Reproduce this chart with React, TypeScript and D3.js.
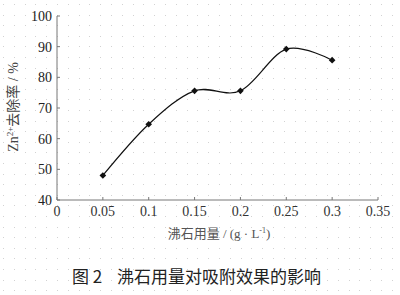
import React from "react";
import * as d3 from "d3";

const xValues = [0.05, 0.1, 0.15, 0.2, 0.25, 0.3];
const yValues = [48, 64.7, 75.6, 75.6, 89.2, 85.6];
const xTicks = [0, 0.05, 0.1, 0.15, 0.2, 0.25, 0.3, 0.35];
const xTickLabels = ["0", "0.05", "0.1", "0.15", "0.2", "0.25", "0.3", "0.35"];
const yTicks = [40, 50, 60, 70, 80, 90, 100];

const W = 400;
const H = 295;
const left = 57;
const right = 378;
const top = 16;
const bottom = 200;

const serif = "Liberation Serif";
const cjk = "Noto Sans CJK SC";

export default function App() {
  const x = d3.scaleLinear().domain([0, 0.35]).range([left, right]);
  const y = d3.scaleLinear().domain([40, 100]).range([bottom, top]);
  const pts: [number, number][] = xValues.map((v, i) => [x(v), y(yValues[i])]);
  const line = d3.line().curve(d3.curveCardinal.tension(0))(pts) || "";
  const marker = d3.symbol().type(d3.symbolSquare).size(22)() || "";

  const dots: React.ReactNode[] = [];
  const sx = 10.8, sy = 10.6;
  for (let yy = 4; yy < H; yy += sy) {
    for (let xx = 3; xx < W; xx += sx) {
      dots.push(<rect key={`${xx}-${yy}`} x={Math.round(xx)} y={Math.round(yy)} width={1} height={1} fill="#d2d2d2" />);
    }
  }

  const axisColor = "#777";

  return (
    <svg width={W} height={H} style={{ position: "absolute", left: 0, top: 0, background: "#fff" }}>
      <rect x={0} y={0} width={W} height={H} fill="#fff" />
      <g>{dots}</g>
      <line x1={left} y1={top} x2={left} y2={bottom} stroke={axisColor} strokeWidth={1} />
      <line x1={left} y1={bottom} x2={right} y2={bottom} stroke={axisColor} strokeWidth={1} />
      {yTicks.map((t) => (
        <g key={`y${t}`}>
          <line x1={left} x2={left + 3} y1={y(t)} y2={y(t)} stroke={axisColor} />
          <text x={left - 5} y={y(t)} dy="0.35em" textAnchor="end" style={{ fontFamily: serif, fontSize: 14 }} fill="#222">
            {t}
          </text>
        </g>
      ))}
      {xTicks.map((t, i) => (
        <g key={`x${t}`}>
          <line x1={x(t)} x2={x(t)} y1={bottom} y2={bottom - 3} stroke={axisColor} />
          <text x={x(t)} y={bottom + 16} textAnchor="middle" style={{ fontFamily: serif, fontSize: 14 }} fill="#333">
            {xTickLabels[i]}
          </text>
        </g>
      ))}
      <path d={line} fill="none" stroke="#111" strokeWidth={1.2} />
      {pts.map((p, i) => (
        <path key={i} d={marker} transform={`translate(${p[0]},${p[1]}) rotate(45)`} fill="#111" />
      ))}
      <text x={219} y={238} textAnchor="middle" fill="#555" style={{ fontSize: 13 }}>
        <tspan style={{ fontFamily: cjk }}>沸石用量</tspan>
        <tspan style={{ fontFamily: serif }}> / (g · L</tspan>
        <tspan style={{ fontFamily: serif, fontSize: 8 }} dy={-5}>-1</tspan>
        <tspan style={{ fontFamily: serif }} dy={5}>)</tspan>
      </text>
      <text transform="translate(18,107) rotate(-90)" textAnchor="middle" fill="#444" style={{ fontSize: 14 }}>
        <tspan style={{ fontFamily: serif }}>Zn</tspan>
        <tspan style={{ fontFamily: serif, fontSize: 9 }} dy={-5}>2+</tspan>
        <tspan style={{ fontFamily: cjk }} dy={5}>去除率</tspan>
        <tspan style={{ fontFamily: serif }}> / %</tspan>
      </text>
      <text x={72} y={283} fill="#222" style={{ fontFamily: cjk, fontSize: 17 }}>
        图 2
      </text>
      <text x={117} y={283} fill="#222" style={{ fontFamily: cjk, fontSize: 17 }}>
        沸石用量对吸附效果的影响
      </text>
    </svg>
  );
}
